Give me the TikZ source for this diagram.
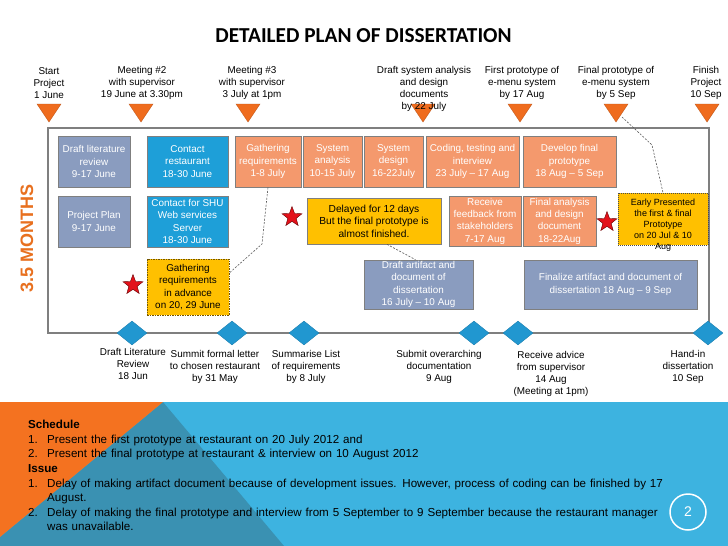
\documentclass[tikz,border=0pt]{standalone}
\usepackage{fontspec}
\setmainfont{Liberation Sans}
\newfontfamily\titlefont{Carlito}
\usetikzlibrary{shapes.geometric}
\definecolor{frameg}{HTML}{7F7F7F}
\definecolor{trio}{HTML}{EF6C1E}
\definecolor{monthso}{HTML}{E8701F}
\definecolor{slate}{HTML}{8A9CBF}
\definecolor{bblue}{HTML}{1E9FD8}
\definecolor{salmon}{HTML}{F4996D}
\definecolor{gold}{HTML}{FFC000}
\definecolor{dia}{HTML}{2197D0}
\definecolor{lblue}{HTML}{3DB3E0}
\definecolor{dteal}{HTML}{3A91B2}
\definecolor{orng}{HTML}{F47220}
\definecolor{starred}{HTML}{E3121B}
\begin{document}
\begin{tikzpicture}[x=1pt,y=-1pt,
  lbl/.style={align=center, font=\fontsize{9.9}{12}\selectfont, inner sep=0pt},
  box/.style={draw=frameg, line width=0.6pt, align=center, text=white,
    font=\fontsize{9.9}{12.3}\selectfont, inner sep=0pt},
  slatebox/.style={box, fill=slate},
  bluebox/.style={box, fill=bblue},
  salbox/.style={box, fill=salmon},
  goldbox/.style={box, fill=gold, text=black},
  redstar/.style={star, star points=5, star point ratio=2.4, minimum size=21pt,
    inner sep=0pt, fill=starred, draw=black!60!red, line width=0.4pt},
  tri/.style={fill=trio, draw=trio!80!black, line width=0.4pt},
  dmd/.style={diamond, minimum width=30pt, minimum height=24pt, inner sep=0pt,
    fill=dia, draw=dia!85!black, line width=0.4pt},
  conn/.style={draw=black!65, line width=0.6pt, dash pattern=on 2pt off 1.5pt},
  frame/.style={draw=frameg, line width=1.8pt}
]
\useasboundingbox (0,0) rectangle (728,546);
\fill[white] (0,0) rectangle (728,546);

% title
\node[font=\titlefont\bfseries\fontsize{21.3}{25}\selectfont, inner sep=0pt] (title) at (363.5,36) {DETAILED PLAN OF DISSERTATION};

% frame
\draw[frame] (48,128) rectangle (709,333);

% top triangles
\foreach \x in {49,141,248,423,520,616,707}{
  \draw[tri] (\x-12,104) -- (\x+12,104) -- (\x,122) -- cycle;
}
\coordinate (ftip) at (622,117);

% top labels
\node[lbl] (l1) at (49,83) {Start\\Project\\1 June};
\node[lbl] (l2) at (142,83) {Meeting \#2\\with supervisor\\19 June at 3.30pm};
\node[lbl] (l3) at (252,83) {Meeting \#3\\with supervisor\\3 July at 1pm};
\node[lbl] (l4) at (424,89) {Draft system analysis\\and design\\documents\\by 22 July};
\node[lbl] (l5) at (522,83) {First prototype of\\e-menu system\\by 17 Aug};
\node[lbl] (l6) at (616,83) {Final prototype of\\e-menu system\\by 5 Sep};
\node[lbl] (l7) at (706,83) {Finish\\Project\\10 Sep};

% months
\node[rotate=90, font=\bfseries\fontsize{18}{20}\selectfont, text=monthso, inner sep=0pt] (months) at (27,238) {3.5 MONTHS};

% row 1
\node[slatebox, minimum width=72pt, minimum height=51pt] (lit) at (94,161.5) {Draft literature\\review\\9-17 June};
\node[bluebox, minimum width=81pt, minimum height=51pt] (contact) at (187.5,161.5) {Contact\\restaurant\\18-30 June};
\node[salbox, minimum width=66pt, minimum height=51pt] (gath) at (268,161.5) {Gathering\\requirements\\1-8 July};
\node[salbox, minimum width=59pt, minimum height=51pt] (sysan) at (332.5,161.5) {System\\analysis\\10-15 July};
\node[salbox, minimum width=59pt, minimum height=51pt] (sysdes) at (393.5,161.5) {System\\design\\16-22July};
\node[salbox, minimum width=93pt, minimum height=51pt] (coding) at (472.5,161.5) {Coding, testing and\\interview\\23 July -- 17 Aug};
\node[salbox, minimum width=93pt, minimum height=51pt] (develop) at (569.5,161.5) {Develop final\\prototype\\18 Aug -- 5 Sep};

% row 2
\node[slatebox, minimum width=72pt, minimum height=51pt] (plan) at (94,221.5) {Project Plan\\9-17 June};
\node[bluebox, minimum width=81pt, minimum height=51pt] (shu) at (187.5,221.5) {Contact for SHU\\Web services\\Server\\18-30 June};
\node[redstar] (s1) at (292,217) {};
\node[goldbox, minimum width=134pt, minimum height=46pt, font=\fontsize{10.2}{12.5}\selectfont] (delayed) at (374,221) {Delayed for 12 days\\But the final prototype is\\almost finished.};
\node[salbox, minimum width=72pt, minimum height=50pt] (feedback) at (485,221) {Receive\\feedback from\\stakeholders\\7-17 Aug};
\node[salbox, minimum width=73pt, minimum height=50pt] (finalan) at (559.5,221) {Final analysis\\and design\\document\\18-22Aug};
\node[redstar] (s2) at (607,222) {};
\node[goldbox, draw=black!70, dash pattern=on 1pt off 1pt, minimum width=90pt, minimum height=52pt] (early) at (663,219) {};
\node[lbl, font=\fontsize{9}{11}\selectfont] (earlyt) at (663,225) {Early Presented\\the first \& final\\Prototype\\on 20 Jul \& 10\\Aug};

% row 3
\node[redstar] (s3) at (133,285) {};
\node[goldbox, draw=black!55!gold, dash pattern=on 1.5pt off 1pt, minimum width=82pt, minimum height=56pt] (advance) at (188,287) {Gathering\\requirements\\in advance\\on 20, 29 June};
\node[slatebox, minimum width=109pt, minimum height=49pt] (artifact) at (418.5,284.5) {Draft artifact and\\document of\\dissertation\\16 July -- 10 Aug};
\node[slatebox, minimum width=173pt, minimum height=49pt] (finalize) at (610.5,284.5) {Finalize artifact and document of\\dissertation 18 Aug -- 9 Sep};

% connectors
\draw[conn] (gath.south) -- (262,244) -- ([yshift=14pt]advance.east);
\draw[conn] ([xshift=13pt]delayed.south) -- ([xshift=-3pt]artifact.north);
\draw[conn] (ftip) -- (652,145) -- (early.north);

% diamonds
\node[dmd] (d1) at (132,333) {};
\node[dmd] (d2) at (232,333) {};
\node[dmd] (d3) at (304,333) {};
\node[dmd] (d4) at (474,333) {};
\node[dmd] (d5) at (518,333) {};
\node[dmd] (d6) at (708,333) {};

% bottom labels
\node[lbl] (b1) at (133,364) {Draft Literature\\Review\\18 Jun};
\node[lbl] (b2) at (215,366.5) {Summit formal letter\\to chosen restaurant\\by 31 May};
\node[lbl] (b3) at (306,366.5) {Summarise List\\of requirements\\by 8 July};
\node[lbl] (b4) at (439,366.5) {Submit overarching\\documentation\\9 Aug};
\node[lbl] (b5) at (551,373.5) {Receive advice\\from supervisor\\14 Aug\\(Meeting at 1pm)};
\node[lbl] (b6) at (688,366.5) {Hand-in\\dissertation\\10 Sep};

% bottom band
\fill[lblue] (0,402) rectangle (728,546);
\fill[dteal] (163,402) -- (284,546) -- (0,546) -- (0,537) -- cycle;
\fill[orng] (0,402) -- (163,402) -- (0,537) -- cycle;

\node[anchor=north west, text width=700pt, align=left, inner sep=0pt,
  font=\fontsize{11.6}{14.6}\selectfont] (notes) at (28,420) {%
\textbf{Schedule}\\
\makebox[19pt][l]{1.}Present the first prototype at restaurant on 20 July 2012 and\\
\makebox[19pt][l]{2.}Present the final prototype at restaurant \& interview on 10 August 2012\\
\textbf{Issue}\\
\makebox[19pt][l]{1.}Delay of making artifact document because of development issues. However, process of coding can be finished by 17\\
\hspace*{19pt}August.\\
\makebox[19pt][l]{2.}Delay of making the final prototype and interview from 5 September to 9 September because the restaurant manager\\
\hspace*{19pt}was unavailable.};

\node[circle, draw=white, line width=1.5pt, minimum size=36pt, inner sep=0pt, text=white,
  font=\fontsize{14}{16}\selectfont] (page) at (688,512) {2};
\end{tikzpicture}
\end{document}
